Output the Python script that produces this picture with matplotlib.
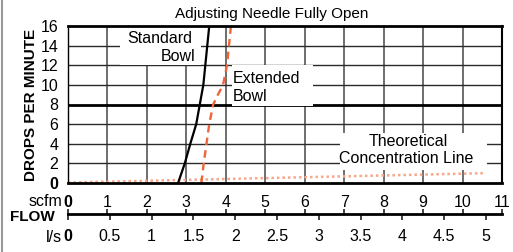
import matplotlib
matplotlib.use("Agg")
import matplotlib.pyplot as plt
from matplotlib.patches import Rectangle
from matplotlib.lines import Line2D
from matplotlib.ticker import FixedLocator

plt.rcParams['font.family'] = ['Liberation Sans', 'DejaVu Sans']

# ---- data ----
scfm_ticks = list(range(0, 12))
ls_ticks = [0, 0.5, 1, 1.5, 2, 2.5, 3, 3.5, 4, 4.5, 5]
ls_labels = ['0', '0.5', '1', '1.5', '2', '2.5', '3', '3.5', '4', '4.5', '5']
drop_ticks = list(range(0, 17, 2))

std_flow = [2.79, 2.96, 3.10, 3.25, 3.34, 3.43, 3.48, 3.53, 3.58]
std_drops = [0, 2, 4, 6, 8, 10, 12, 14, 16]

ext_flow = [3.38, 3.44, 3.51, 3.58, 3.68, 3.80, 3.93, 4.03, 4.08, 4.13]
ext_drops = [0, 2, 4, 6, 8, 9, 10, 12, 14, 16]

theo_flow = [0, 10.55]
theo_drops = [0.05, 1.0]

SCFM_PER_LS = 2.1189

W, H = 513, 252
fig = plt.figure(figsize=(W / 100, H / 100), dpi=100)
ax = fig.add_axes([68 / W, (H - 183) / H, (502 - 68) / W, (183 - 26) / H])
ax.set_xlim(0, 11)
ax.set_ylim(0, 16)

# grid
for v in range(1, 11):
    ax.axvline(v, color='#555555', lw=1.2, zorder=0.5)
for v in drop_ticks[1:-1]:
    if v == 8:
        ax.axhline(v, color='black', lw=2.0, zorder=0.6)
    else:
        ax.axhline(v, color='#2a2a2a', lw=1.0, zorder=0.6)

# label boxes (white) covering grid
for (x0, y0, w, h) in [(1.33, 12.0, 2.05, 4.0), (4.15, 7.8, 2.05, 4.2), (6.9, 1.3, 3.72, 3.8)]:
    ax.add_patch(Rectangle((x0, y0), w, h, facecolor='white', edgecolor='none', zorder=1))

fs = 11.5
ax.text(3.15, 14.7, 'Standard', ha='right', va='center', fontsize=fs, zorder=4)
ax.text(3.24, 12.85, 'Bowl', ha='right', va='center', fontsize=fs, zorder=4)
ax.text(4.18, 10.7, 'Extended', ha='left', va='center', fontsize=fs, zorder=4)
ax.text(4.18, 8.8, 'Bowl', ha='left', va='center', fontsize=fs, zorder=4)
ax.text(8.62, 4.2, 'Theoretical', ha='center', va='center', fontsize=fs, zorder=4)
ax.text(8.56, 2.45, 'Concentration Line', ha='center', va='center', fontsize=fs, zorder=4)

# curves
ax.plot(theo_flow, theo_drops, color='#f7a78a', lw=1.8, linestyle=(0, (1, 1.2)), zorder=3, clip_on=False)
ax.plot(std_flow, std_drops, color='black', lw=1.6, zorder=3)
ax.plot(ext_flow, ext_drops, color='#f0643a', lw=1.7, linestyle=(0, (3.2, 2.2)), zorder=3)

# spines
ax.spines['top'].set_linewidth(2.0)
ax.spines['bottom'].set_linewidth(2.0)
ax.spines['left'].set_linewidth(1.0)
ax.spines['right'].set_linewidth(1.5)
for s in ax.spines.values():
    s.set_zorder(5)

# ticks
ax.set_yticks(drop_ticks)
ax.set_yticklabels([str(v) for v in drop_ticks])
ax.set_xticks(scfm_ticks)
ax.set_xticklabels([str(v) for v in scfm_ticks])
ax.tick_params(axis='both', length=0, labelsize=11.5)
ax.tick_params(axis='y', pad=7)
ax.tick_params(axis='x', pad=8.5)
ax.get_xticklabels()[0].set_fontweight('bold')
ax.get_yticklabels()[0].set_fontweight('bold')

ax.set_ylabel('DROPS PER MINUTE', fontsize=11, fontweight='bold', labelpad=2)
fig.text(272 / W, 1 - 14 / H, 'Adjusting Needle Fully Open', ha='center', va='center', fontsize=11)

# flow axis (l/s)
loc = -(214 - 183) / (183 - 26)
sec = ax.secondary_xaxis(loc, functions=(lambda x: x / SCFM_PER_LS, lambda x: x * SCFM_PER_LS))
sec.set_xticks(ls_ticks)
sec.set_xticklabels(ls_labels)
sec.xaxis.set_minor_locator(FixedLocator([v / SCFM_PER_LS for v in scfm_ticks]))
sec.xaxis.remove_overlapping_locs = False
sec.tick_params(which='major', direction='out', length=4.5, width=1.3, color='#333333', labelsize=11.5, pad=6)
sec.tick_params(which='minor', direction='in', length=3.5, width=1.3, color='#333333')
sec.spines['bottom'].set_linewidth(2.0)
sec.get_xticklabels()[0].set_fontweight('bold')

fig.text(62 / W, 1 - 202 / H, 'scfm', ha='right', va='center', fontsize=11.5)
fig.text(55 / W, 1 - 217 / H, 'FLOW', ha='right', va='center', fontsize=11, fontweight='bold')
fig.text(62 / W, 1 - 237 / H, 'l/s', ha='right', va='center', fontsize=11.5)

fig.add_artist(Line2D([1.5 / W, 1.5 / W], [0, 1], transform=fig.transFigure, color='#999999', lw=1.5))

fig.savefig('out.png', dpi=100)
